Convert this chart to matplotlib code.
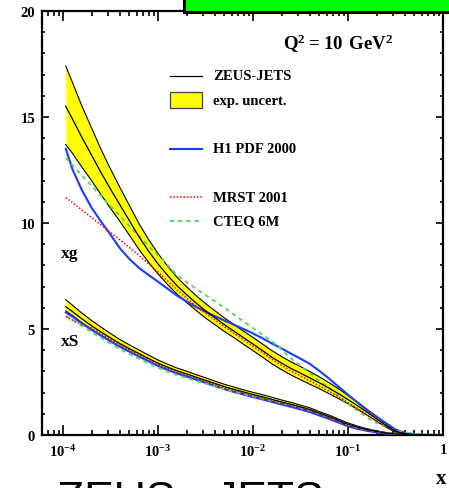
import matplotlib
matplotlib.use('Agg')
import matplotlib.pyplot as plt
from matplotlib.patches import Rectangle
from matplotlib.ticker import MultipleLocator, LogLocator, NullFormatter

plt.rcParams['font.family'] = ['Liberation Serif', 'DejaVu Serif']
plt.rcParams['font.weight'] = 'bold'
plt.rcParams['mathtext.fontset'] = 'custom'
plt.rcParams['mathtext.default'] = 'bf'
plt.rcParams['mathtext.bf'] = 'Liberation Serif:bold'
plt.rcParams['mathtext.rm'] = 'Liberation Serif:bold'

# x points (log spaced)
x = [1.07e-4, 1.26e-4, 1.58e-4, 2.0e-4, 2.51e-4, 3.16e-4, 3.98e-4, 5.01e-4, 6.31e-4, 7.94e-4,
     1e-3, 1.26e-3, 1.58e-3, 2.0e-3, 2.51e-3, 3.16e-3, 3.98e-3, 5.01e-3, 6.31e-3, 7.94e-3,
     1e-2, 1.26e-2, 1.58e-2, 2.0e-2, 2.51e-2, 3.16e-2, 3.98e-2, 5.01e-2, 6.31e-2, 7.94e-2,
     0.1, 0.126, 0.158, 0.2, 0.251, 0.316, 0.398, 0.501, 0.631, 0.794, 1.0]

# gluon xg
xg_zeus = [15.5, 14.9, 14.04, 13.2, 12.38, 11.6, 10.85, 10.1, 9.35, 8.68,
           8.07, 7.53, 7.05, 6.62, 6.23, 5.86, 5.53, 5.2, 4.9, 4.59,
           4.29, 3.98, 3.67, 3.39, 3.14, 2.92, 2.69, 2.46, 2.21, 1.95,
           1.67, 1.38, 1.08, 0.76, 0.45, 0.18, 0.06, 0.015, 0.004, 0.0, 0.0]
xg_up = [17.4, 16.62, 15.52, 14.48, 13.48, 12.55, 11.67, 10.82, 9.97, 9.23,
         8.56, 7.97, 7.45, 6.99, 6.58, 6.2, 5.86, 5.52, 5.21, 4.9,
         4.6, 4.29, 3.98, 3.7, 3.45, 3.23, 2.99, 2.74, 2.47, 2.18,
         1.87, 1.55, 1.22, 0.87, 0.53, 0.23, 0.09, 0.025, 0.009, 0.0, 0.0]
xg_lo = [13.7, 13.28, 12.64, 12.0, 11.34, 10.7, 10.07, 9.42, 8.75, 8.15,
         7.6, 7.1, 6.65, 6.25, 5.88, 5.52, 5.2, 4.88, 4.59, 4.28,
         3.98, 3.67, 3.36, 3.08, 2.83, 2.61, 2.39, 2.18, 1.95, 1.72,
         1.47, 1.21, 0.94, 0.65, 0.37, 0.13, 0.03, 0.005, 0.0, 0.0, 0.0]
xg_h1 = [13.5, 12.52, 11.55, 10.72, 10.07, 9.45, 8.8, 8.3, 7.88, 7.55,
         7.23, 6.9, 6.58, 6.3, 6.04, 5.82, 5.6, 5.4, 5.2, 5.0,
         4.79, 4.56, 4.32, 4.08, 3.84, 3.6, 3.35, 3.02, 2.66, 2.28,
         1.9, 1.53, 1.18, 0.86, 0.56, 0.26, 0.1, 0.04, 0.01, 0.0, 0.0]
xg_mrst = [11.2, 10.96, 10.61, 10.26, 9.91, 9.56, 9.2, 8.84, 8.47, 8.08,
           7.68, 7.27, 6.86, 6.46, 6.09, 5.74, 5.42, 5.1, 4.8, 4.49,
           4.19, 3.88, 3.57, 3.28, 3.02, 2.79, 2.55, 2.31, 2.06, 1.8,
           1.53, 1.25, 0.96, 0.67, 0.39, 0.16, 0.05, 0.015, 0.004, 0.0, 0.0]
xg_cteq = [13.07, 12.73, 12.24, 11.76, 11.28, 10.8, 10.32, 9.85, 9.38, 8.92,
           8.47, 8.02, 7.55, 7.22, 6.9, 6.6, 6.3, 6.0, 5.68, 5.36,
           5.04, 4.73, 4.43, 4.02, 3.62, 3.26, 2.9, 2.55, 2.22, 1.83,
           1.47, 1.14, 0.83, 0.57, 0.37, 0.22, 0.12, 0.05, 0.02, 0.005, 0.0]

# sea xS
xs_zeus = [6.05, 5.82, 5.48, 5.15, 4.86, 4.58, 4.31, 4.07, 3.84, 3.61,
           3.39, 3.2, 3.03, 2.88, 2.73, 2.58, 2.43, 2.28, 2.15, 2.03,
           1.91, 1.8, 1.68, 1.56, 1.45, 1.33, 1.2, 1.03, 0.87, 0.69,
           0.51, 0.37, 0.26, 0.17, 0.1, 0.05, 0.02, 0.008, 0.002, 0.0, 0.0]
xs_up = [6.38, 6.12, 5.75, 5.4, 5.09, 4.79, 4.5, 4.25, 4.01, 3.77,
         3.54, 3.34, 3.16, 3.01, 2.85, 2.7, 2.54, 2.39, 2.26, 2.13,
         2.01, 1.9, 1.78, 1.65, 1.54, 1.41, 1.28, 1.1, 0.94, 0.75,
         0.57, 0.42, 0.3, 0.2, 0.12, 0.06, 0.03, 0.008, 0.002, 0.0, 0.0]
xs_lo = [5.85, 5.63, 5.3, 4.98, 4.7, 4.43, 4.16, 3.93, 3.7, 3.48,
         3.26, 3.08, 2.91, 2.76, 2.62, 2.47, 2.32, 2.18, 2.05, 1.93,
         1.81, 1.71, 1.59, 1.47, 1.37, 1.25, 1.12, 0.96, 0.8, 0.63,
         0.45, 0.32, 0.22, 0.14, 0.08, 0.04, 0.01, 0.008, 0.002, 0.0, 0.0]
xs_h1 = [5.78, 5.58, 5.27, 4.96, 4.69, 4.42, 4.16, 3.93, 3.7, 3.48,
         3.26, 3.07, 2.91, 2.76, 2.61, 2.46, 2.31, 2.16, 2.03, 1.91,
         1.79, 1.68, 1.56, 1.44, 1.33, 1.21, 1.08, 0.92, 0.76, 0.59,
         0.41, 0.29, 0.2, 0.12, 0.07, 0.03, 0.01, 0.003, 0.0, 0.0, 0.0]
xs_mrst = [5.58, 5.42, 5.2, 5.04, 4.78, 4.51, 4.25, 4.01, 3.79, 3.56,
           3.34, 3.15, 2.98, 2.83, 2.68, 2.53, 2.38, 2.23, 2.1, 1.98,
           1.86, 1.75, 1.63, 1.51, 1.4, 1.28, 1.15, 0.98, 0.82, 0.64,
           0.46, 0.33, 0.23, 0.15, 0.09, 0.04, 0.015, 0.005, 0.0, 0.0, 0.0]
xs_cteq = [5.62, 5.44, 5.15, 4.85, 4.58, 4.31, 4.05, 3.82, 3.6, 3.38,
           3.17, 2.99, 2.83, 2.69, 2.55, 2.42, 2.29, 2.16, 2.05, 1.94,
           1.83, 1.73, 1.62, 1.5, 1.4, 1.28, 1.15, 0.99, 0.83, 0.66,
           0.48, 0.35, 0.25, 0.17, 0.11, 0.06, 0.02, 0.008, 0.002, 0.0, 0.0]

x_ticks = [1e-4, 1e-3, 1e-2, 1e-1, 1]
x_labels = ['$10^{-4}$', '$10^{-3}$', '$10^{-2}$', '$10^{-1}$', '1']

blue = '#1a3cff'
green = '#5fd85f'

fig = plt.figure(figsize=(4.49, 4.89), dpi=100)
ax = fig.add_axes([42/449, 53/489, 401/449, 424/489])

for lo, up, cen, h1, mrst, cteq in [(xg_lo, xg_up, xg_zeus, xg_h1, xg_mrst, xg_cteq),
                                    (xs_lo, xs_up, xs_zeus, xs_h1, xs_mrst, xs_cteq)]:
    ax.fill_between(x, lo, up, color='#ffff00', lw=0, zorder=1)
    ax.plot(x, up, color='k', lw=0.8, zorder=2)
    ax.plot(x, lo, color='k', lw=0.8, zorder=2)
    ax.plot(x, h1, color=blue, lw=1.5, zorder=3)
    ax.plot(x, cteq, color=green, lw=1.4, ls=(0, (2.2, 2.0)), zorder=3)
    ax.plot(x, mrst, color='red', lw=1.1, ls=(0, (1, 1.2)), zorder=4)
    ax.plot(x, cen, color='k', lw=0.9, zorder=5)

ax.set_xscale('log')
ax.set_xlim(10 ** -4.221, 1)
ax.set_ylim(0, 20)
ax.set_xticks(x_ticks, x_labels)
ax.xaxis.set_minor_locator(LogLocator(base=10, subs=range(2, 10), numticks=20))
ax.xaxis.set_minor_formatter(NullFormatter())
ax.yaxis.set_major_locator(MultipleLocator(5))
ax.yaxis.set_minor_locator(MultipleLocator(1))
ax.tick_params(which='both', direction='in', top=True, right=True, labelsize=10.5, width=1.2)
ax.tick_params(axis='x', which='major', length=7, pad=6)
ax.tick_params(axis='x', which='minor', length=3.5)
ax.tick_params(axis='y', which='major', length=5, pad=5)
ax.tick_params(axis='y', which='minor', length=2.5)
for s in ax.spines.values():
    s.set_linewidth(1.6)

# curve labels
ax.text(10 ** -3.926, 8.58, 'xg', fontsize=12.5, ha='center', va='center')
ax.text(10 ** -3.926, 4.43, 'xS', fontsize=12.5, ha='center', va='center')
ax.text(0.738, 0.925, '$Q^2 = 10\\ GeV^2$', transform=ax.transAxes,
        fontsize=13.5, ha='center', va='center')

# legend (drawn by hand to keep the gaps between groups)
lx0, lx1, tx = 0.319, 0.399, 0.426
ax.plot([lx0, lx1], [0.847, 0.847], transform=ax.transAxes, color='k', lw=0.9)
ax.add_patch(Rectangle((lx0, 0.771), lx1 - lx0, 0.038, transform=ax.transAxes,
                       facecolor='#ffff00', edgecolor='#444444', lw=0.9))
ax.plot([lx0, lx1], [0.675, 0.675], transform=ax.transAxes, color=blue, lw=1.5)
ax.plot([lx0, lx1], [0.561, 0.561], transform=ax.transAxes, color='red', lw=1.1, ls=(0, (1, 1.2)))
ax.plot([lx0, lx1], [0.505, 0.505], transform=ax.transAxes, color=green, lw=1.4, ls=(0, (2.2, 2.0)))
for yy, t in [(0.847, 'ZEUS-JETS'), (0.788, 'exp. uncert.'), (0.675, 'H1 PDF 2000'),
              (0.561, 'MRST 2001'), (0.505, 'CTEQ 6M')]:
    ax.text(tx, yy, t, transform=ax.transAxes, fontsize=10.5, va='center')

fig.text(441/449, (489 - 479)/489, 'x', fontsize=15, ha='center', va='center')

# page bits around the plot
fig.add_artist(Rectangle((184/449, (489 - 12.5)/489), 0.7, 0.1, transform=fig.transFigure,
                         facecolor='#00ff00', edgecolor='k', lw=2.2, clip_on=False, zorder=10))
fig.text(57/449, (489 - 481)/489, 'ZEUS - JETS', family='Liberation Sans', fontweight='normal',
         fontsize=32, ha='left', va='top')

fig.savefig('out.png', dpi=100)
